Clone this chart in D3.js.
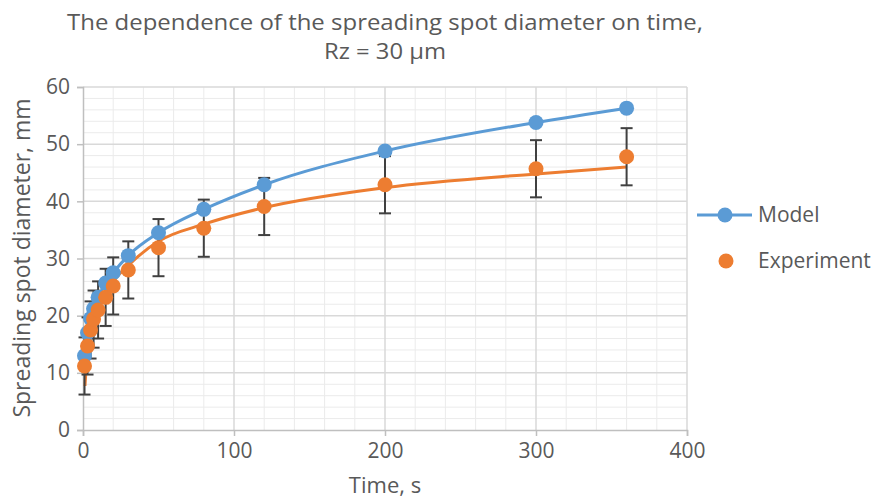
<!DOCTYPE html>
<html>
<head>
<meta charset="utf-8">
<script src="https://cdn.jsdelivr.net/npm/d3@7"></script>
<style>
  html, body { margin: 0; padding: 0; background: #fff; }
  svg { display: block; }
  text { font-family: "Open Sans", "DejaVu Sans", sans-serif; fill: #595959; }
</style>
</head>
<body>
<svg id="chart" width="879" height="501"></svg>
<script>
// ---- data ----
const titleLines = ["The dependence of the spreading spot diameter on time,", "Rz = 30 µm"];
const xAxisTitle = "Time, s";
const yAxisTitle = "Spreading spot diameter, mm";
const seriesNames = ["Model", "Experiment"];

const times = [1, 3, 5, 7, 10, 15, 20, 30, 50, 80, 120, 200, 300, 360];
const modelValues = [13.0, 17.0, 19.5, 21.2, 23.2, 25.7, 27.5, 30.5, 34.5, 38.6, 42.9, 48.8, 53.8, 56.3];
const experimentValues = [11.2, 14.7, 17.5, 19.4, 21.0, 23.2, 25.2, 28.0, 31.9, 35.3, 39.1, 42.9, 45.7, 47.8];
const experimentErrors = [5, 5, 5, 5, 5, 5, 5, 5, 5, 5, 5, 5, 5, 5];

// experiment trend curve (orange line)
const trendTimes = [1.3, 3, 5, 7, 10, 15, 20, 30, 50, 80, 120, 200, 300, 360];
const trendValues = [7.7, 13.8, 17.0, 19.2, 21.5, 24.0, 26.0, 28.8, 33.0, 36.0, 38.9, 42.4, 44.8, 46.0];

const xTicks = [0, 100, 200, 300, 400];
const yTicks = [0, 10, 20, 30, 40, 50, 60];
const xMinorStep = 20;
const yMinorStep = 2;

// ---- layout ----
const svg = d3.select("#chart");
const colors = { model: "#5B9BD5", experiment: "#ED7D31", err: "#404040",
                 major: "#D9D9D9", minor: "#EBEBEB", axis: "#BFBFBF" };

const x = d3.scaleLinear().domain([0, 400]).range([83, 687]);
const y = d3.scaleLinear().domain([0, 60]).range([430, 87]);

// minor grid
const xMinor = d3.range(0, 400 + 1e-9, xMinorStep).filter(v => !xTicks.includes(v));
const yMinor = d3.range(0, 60 + 1e-9, yMinorStep).filter(v => !yTicks.includes(v));
const grid = svg.append("g");
grid.selectAll(".xm").data(xMinor).join("line")
  .attr("x1", d => x(d)).attr("x2", d => x(d)).attr("y1", y(0)).attr("y2", y(60))
  .attr("stroke", colors.minor).attr("stroke-width", 1);
grid.selectAll(".ym").data(yMinor).join("line")
  .attr("x1", x(0)).attr("x2", x(400)).attr("y1", d => y(d)).attr("y2", d => y(d))
  .attr("stroke", colors.minor).attr("stroke-width", 1);
// major grid
grid.selectAll(".xM").data(xTicks.filter(v => v > 0)).join("line")
  .attr("x1", d => x(d)).attr("x2", d => x(d)).attr("y1", y(0)).attr("y2", y(60))
  .attr("stroke", colors.major).attr("stroke-width", 1.5);
grid.selectAll(".yM").data(yTicks.filter(v => v > 0)).join("line")
  .attr("x1", x(0)).attr("x2", x(400)).attr("y1", d => y(d)).attr("y2", d => y(d))
  .attr("stroke", colors.major).attr("stroke-width", 1.5);

// axes
const xAxis = svg.append("g").attr("transform", `translate(0,${y(0)})`)
  .call(d3.axisBottom(x).tickValues(xTicks).tickSize(6).tickPadding(7).tickFormat(d3.format("d")));
const yAxis = svg.append("g").attr("transform", `translate(${x(0)},0)`)
  .call(d3.axisLeft(y).tickValues(yTicks).tickSize(6).tickPadding(7).tickFormat(d3.format("d")));
[xAxis, yAxis].forEach(a => {
  a.select(".domain").attr("stroke", colors.axis).attr("stroke-width", 1.5);
  a.selectAll(".tick line").attr("stroke", colors.axis).attr("stroke-width", 1.5);
  a.selectAll(".tick text").attr("fill", "#595959").style("font-size", "21px")
    .style("font-family", '"Open Sans", sans-serif');
});

// lines
const modelData = times.map((t, i) => ({ t, v: modelValues[i] }));
const expData = times.map((t, i) => ({ t, v: experimentValues[i], e: experimentErrors[i] }));
const trendData = trendTimes.map((t, i) => ({ t, v: trendValues[i] }));

const line = d3.line().x(d => x(d.t)).y(d => y(d.v)).curve(d3.curveMonotoneX);

svg.append("path").datum(modelData).attr("d", line)
  .attr("fill", "none").attr("stroke", colors.model).attr("stroke-width", 3);
svg.append("path").datum(trendData).attr("d", line)
  .attr("fill", "none").attr("stroke", colors.experiment).attr("stroke-width", 3);

// error bars
const eb = svg.append("g").attr("stroke", colors.err).attr("stroke-width", 2);
eb.selectAll(".v").data(expData).join("line")
  .attr("x1", d => x(d.t)).attr("x2", d => x(d.t))
  .attr("y1", d => y(d.v - d.e)).attr("y2", d => y(d.v + d.e));
eb.selectAll(".ct").data(expData).join("line")
  .attr("x1", d => x(d.t) - 6).attr("x2", d => x(d.t) + 6)
  .attr("y1", d => y(d.v + d.e)).attr("y2", d => y(d.v + d.e));
eb.selectAll(".cb").data(expData).join("line")
  .attr("x1", d => x(d.t) - 6).attr("x2", d => x(d.t) + 6)
  .attr("y1", d => y(d.v - d.e)).attr("y2", d => y(d.v - d.e));

// markers
svg.append("g").selectAll("circle").data(modelData).join("circle")
  .attr("cx", d => x(d.t)).attr("cy", d => y(d.v)).attr("r", 7.5).attr("fill", colors.model);
svg.append("g").selectAll("circle").data(expData).join("circle")
  .attr("cx", d => x(d.t)).attr("cy", d => y(d.v)).attr("r", 7.5).attr("fill", colors.experiment);

// titles
svg.append("text").attr("x", 385).attr("y", 30).attr("text-anchor", "middle")
  .attr("textLength", 636).attr("lengthAdjust", "spacingAndGlyphs")
  .style("font-size", "21px").text(titleLines[0]);
svg.append("text").attr("x", 385).attr("y", 59).attr("text-anchor", "middle")
  .attr("textLength", 122).attr("lengthAdjust", "spacingAndGlyphs")
  .style("font-size", "21px").text(titleLines[1]);
svg.append("text").attr("x", 385).attr("y", 493).attr("text-anchor", "middle")
  .style("font-size", "22px").text(xAxisTitle);
svg.append("text").attr("transform", "translate(30,258) rotate(-90)").attr("text-anchor", "middle")
  .style("font-size", "23px").text(yAxisTitle);

// legend
const lg = svg.append("g");
lg.append("line").attr("x1", 697).attr("x2", 752).attr("y1", 215).attr("y2", 215)
  .attr("stroke", colors.model).attr("stroke-width", 3);
lg.append("circle").attr("cx", 725).attr("cy", 215).attr("r", 7.5).attr("fill", colors.model);
lg.append("text").attr("x", 758).attr("y", 215).attr("dy", "0.35em").style("font-size", "21px").text(seriesNames[0]);
lg.append("circle").attr("cx", 726).attr("cy", 261).attr("r", 7.5).attr("fill", colors.experiment);
lg.append("text").attr("x", 758).attr("y", 261).attr("dy", "0.35em").style("font-size", "21px").text(seriesNames[1]);
</script>
</body>
</html>
